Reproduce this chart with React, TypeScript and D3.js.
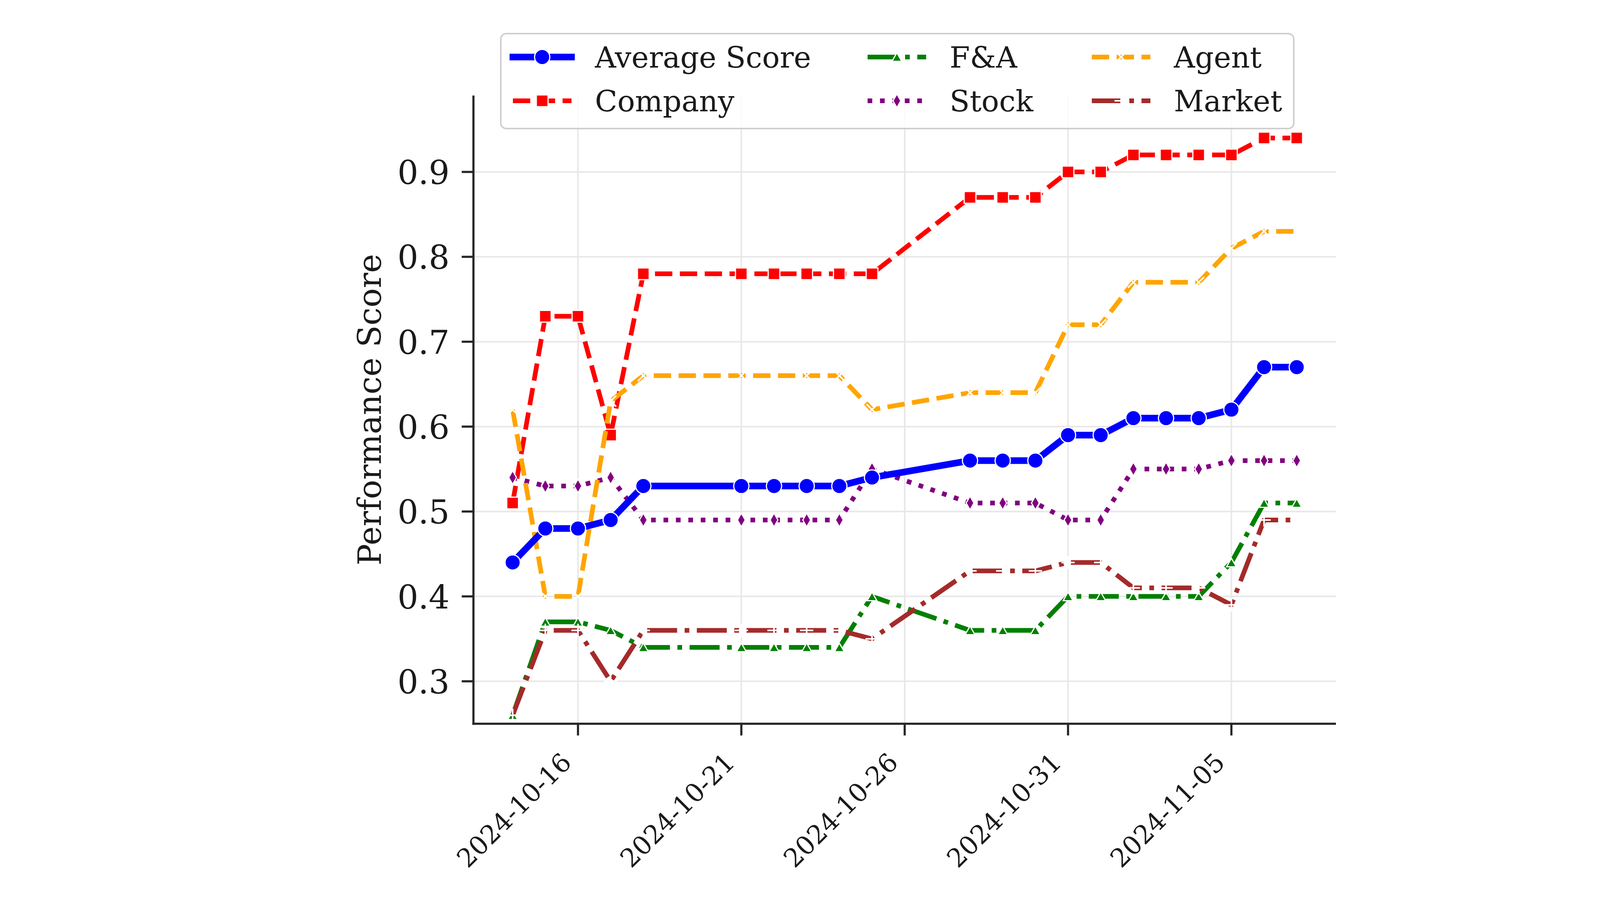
import React, { useEffect } from "react";
import * as d3 from "d3";

const dates = [
  "2024-10-14", "2024-10-15", "2024-10-16", "2024-10-17", "2024-10-18",
  "2024-10-21", "2024-10-22", "2024-10-23", "2024-10-24", "2024-10-25",
  "2024-10-28", "2024-10-29", "2024-10-30", "2024-10-31", "2024-11-01",
  "2024-11-02", "2024-11-03", "2024-11-04", "2024-11-05", "2024-11-06",
  "2024-11-07",
];

const averageScore = [0.44, 0.48, 0.48, 0.49, 0.53, 0.53, 0.53, 0.53, 0.53, 0.54, 0.56, 0.56, 0.56, 0.59, 0.59, 0.61, 0.61, 0.61, 0.62, 0.67, 0.67];
const company = [0.51, 0.73, 0.73, 0.59, 0.78, 0.78, 0.78, 0.78, 0.78, 0.78, 0.87, 0.87, 0.87, 0.90, 0.90, 0.92, 0.92, 0.92, 0.92, 0.94, 0.94];
const fa = [0.26, 0.37, 0.37, 0.36, 0.34, 0.34, 0.34, 0.34, 0.34, 0.40, 0.36, 0.36, 0.36, 0.40, 0.40, 0.40, 0.40, 0.40, 0.44, 0.51, 0.51];
const stock = [0.54, 0.53, 0.53, 0.54, 0.49, 0.49, 0.49, 0.49, 0.49, 0.55, 0.51, 0.51, 0.51, 0.49, 0.49, 0.55, 0.55, 0.55, 0.56, 0.56, 0.56];
const agent = [0.62, 0.40, 0.40, 0.63, 0.66, 0.66, 0.66, 0.66, 0.66, 0.62, 0.64, 0.64, 0.64, 0.72, 0.72, 0.77, 0.77, 0.77, 0.81, 0.83, 0.83];
const market = [0.26, 0.36, 0.36, 0.30, 0.36, 0.36, 0.36, 0.36, 0.36, 0.35, 0.43, 0.43, 0.43, 0.44, 0.44, 0.41, 0.41, 0.41, 0.39, 0.49, 0.49];

const xTickLabels = ["2024-10-16", "2024-10-21", "2024-10-26", "2024-10-31", "2024-11-05"];
const yTicks = [0.3, 0.4, 0.5, 0.6, 0.7, 0.8, 0.9];
const yLabel = "Performance Score";

type Marker = "circle" | "square" | "triangle" | "diamond" | "x" | "plus";

interface Series {
  name: string;
  values: number[];
  color: string;
  lw: number;
  dash: string;
  marker: Marker;
}

const LW = 12;
const DASHED = `${3.7 * LW} ${1.6 * LW}`;
const DASHDOT = `${6.4 * LW} ${1.6 * LW} ${1 * LW} ${1.6 * LW}`;
const DOTTED = `${1 * LW} ${1.65 * LW}`;

const series: Series[] = [
  { name: "Average Score", values: averageScore, color: "blue", lw: 17, dash: "none", marker: "circle" },
  { name: "Company", values: company, color: "red", lw: LW, dash: DASHED, marker: "square" },
  { name: "F&A", values: fa, color: "green", lw: LW, dash: DASHDOT, marker: "triangle" },
  { name: "Stock", values: stock, color: "purple", lw: LW, dash: DOTTED, marker: "diamond" },
  { name: "Agent", values: agent, color: "orange", lw: LW, dash: DASHED, marker: "x" },
  { name: "Market", values: market, color: "brown", lw: LW, dash: DASHDOT, marker: "plus" },
];

// draw order: components first, average on top
const drawOrder = ["Company", "F&A", "Stock", "Agent", "Market", "Average Score"];

const FONT = "'DejaVu Serif', serif";
const W = 4400;
const H = 2319;
const left = 1212;
const right = 3420;
const top = 244.5;
const bottom = 1852.5;

const parse = (s: string) => {
  const [y, m, d] = s.split("-").map(Number);
  return new Date(Date.UTC(y, m - 1, d));
};
const DAY = 86400000;

const x = d3
  .scaleUtc()
  .domain([new Date(+parse(dates[0]) - 1.2 * DAY), new Date(+parse(dates[dates.length - 1]) + 1.2 * DAY)])
  .range([left, right]);
const y = d3.scaleLinear().domain([0.25, 0.99]).range([bottom, top]);

function MarkerShape({ kind, cx, cy, color }: { kind: Marker; cx: number; cy: number; color: string }) {
  switch (kind) {
    case "circle":
      return <circle cx={cx} cy={cy} r={19.5} fill={color} stroke="white" strokeWidth={3} />;
    case "square":
      return <rect x={cx - 15} y={cy - 15} width={30} height={30} fill={color} stroke="white" strokeWidth={3} />;
    case "triangle":
      return (
        <path
          d={`M${cx},${cy - 11}L${cx + 12.5},${cy + 11}L${cx - 12.5},${cy + 11}Z`}
          fill={color}
          stroke="white"
          strokeWidth={3}
        />
      );
    case "diamond":
      return (
        <path
          d={`M${cx},${cy - 17.5}L${cx + 10},${cy}L${cx},${cy + 17.5}L${cx - 10},${cy}Z`}
          fill={color}
          stroke="white"
          strokeWidth={3}
        />
      );
    case "x":
      return (
        <path
          d={`M${cx - 14},${cy - 14}L${cx + 14},${cy + 14}M${cx - 14},${cy + 14}L${cx + 14},${cy - 14}`}
          stroke="white"
          strokeWidth={4}
          fill="none"
        />
      );
    case "plus":
      return (
        <path
          d={`M${cx - 17},${cy}L${cx + 17},${cy}M${cx},${cy - 17}L${cx},${cy + 17}`}
          stroke="white"
          strokeWidth={4}
          fill="none"
        />
      );
  }
}

const legendCols = [1313, 2221, 2795];
const legendRows = [146, 258];
const handleLen = 150;

export default function App() {
  useEffect(() => {
    document.body.style.margin = "0";
  }, []);

  const line = d3
    .line<number>()
    .x((_, i) => x(parse(dates[i])))
    .y((v) => y(v));

  const ordered = drawOrder.map((n) => series.find((s) => s.name === n)!);

  return (
    <svg width={W} height={H} style={{ position: "absolute", left: 0, top: 0, background: "white" }} fontFamily={FONT}>
      <rect x={0} y={0} width={W} height={H} fill="white" />
      {/* grid */}
      <g stroke="#e8e8e8" strokeWidth={4}>
        {yTicks.map((t) => (
          <line key={`gy${t}`} x1={left} x2={right} y1={y(t)} y2={y(t)} />
        ))}
        {xTickLabels.map((t) => (
          <line key={`gx${t}`} x1={x(parse(t))} x2={x(parse(t))} y1={top} y2={bottom} />
        ))}
      </g>

      {/* series */}
      {ordered.map((s) => (
        <g key={s.name}>
          <path
            d={line(s.values) || ""}
            fill="none"
            stroke={s.color}
            strokeWidth={s.lw}
            strokeDasharray={s.dash}
            strokeLinejoin="round"
            strokeLinecap={s.dash === "none" ? "square" : "butt"}
          />
          {s.values.map((v, i) => (
            <MarkerShape key={i} kind={s.marker} cx={x(parse(dates[i]))} cy={y(v)} color={s.color} />
          ))}
        </g>
      ))}

      {/* axes */}
      <g stroke="#262626" strokeWidth={5.5}>
        <line x1={left} x2={left} y1={top} y2={bottom + 2.75} />
        <line x1={left - 2.75} x2={right} y1={bottom} y2={bottom} />
        {yTicks.map((t) => (
          <line key={`ty${t}`} x1={left - 30} x2={left} y1={y(t)} y2={y(t)} />
        ))}
        {xTickLabels.map((t) => (
          <line key={`tx${t}`} x1={x(parse(t))} x2={x(parse(t))} y1={bottom} y2={bottom + 30} />
        ))}
      </g>
      <g fill="#1a1a1a">
        {yTicks.map((t) => (
          <text key={`ly${t}`} x={left - 61} y={y(t) + 31} textAnchor="end" fontSize={84}>
            {t.toFixed(1)}
          </text>
        ))}
        {xTickLabels.map((t) => {
          const tx = x(parse(t)) - 13;
          const ty = bottom + 103;
          return (
            <text key={`lx${t}`} textAnchor="end" fontSize={66} transform={`translate(${tx},${ty}) rotate(-45)`}>
              {t}
            </text>
          );
        })}
        <text textAnchor="middle" fontSize={82} transform={`translate(975,${(top + bottom) / 2}) rotate(-90)`}>
          {yLabel}
        </text>
      </g>

      {/* legend */}
      <rect x={1282} y={86} width={2030} height={243} rx={14} ry={14} fill="white" fillOpacity={0.8} stroke="#cfcfcf" strokeWidth={4} />
      {series.map((s, i) => {
        const col = Math.floor(i / 2);
        const row = i % 2;
        const hx = legendCols[col];
        const hy = legendRows[row];
        return (
          <g key={`leg${s.name}`}>
            <line
              x1={hx}
              x2={hx + handleLen}
              y1={hy}
              y2={hy}
              stroke={s.color}
              strokeWidth={s.lw}
              strokeDasharray={s.dash}
              strokeLinecap={s.dash === "none" ? "square" : "butt"}
            />
            <MarkerShape kind={s.marker} cx={hx + handleLen / 2} cy={hy} color={s.color} />
            <text x={hx + 210} y={hy + 27} fontSize={75} fill="#1a1a1a">
              {s.name}
            </text>
          </g>
        );
      })}
    </svg>
  );
}
